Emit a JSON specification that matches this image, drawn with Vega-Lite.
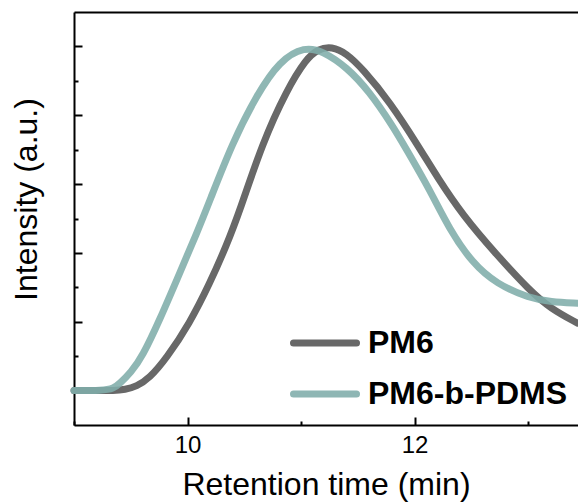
{
  "$schema": "https://vega.github.io/schema/vega-lite/v6.json",
  "width": 504,
  "height": 413,
  "autosize": {"type": "none"},
  "padding": {"left": 74, "top": 12, "right": 0, "bottom": 79},
  "background": "white",
  "config": {
    "view": {"stroke": null},
    "font": "Liberation Sans",
    "axis": {"grid": false, "domainColor": "black", "domainWidth": 2, "tickColor": "black", "tickWidth": 2, "labelColor": "black", "titleColor": "black", "labelFont": "Liberation Sans", "titleFont": "Liberation Sans", "titleFontWeight": "normal"}
  },
  "data": {
    "values": [
      {"x": 9.0, "y": 0, "s": "PM6"},
      {"x": 9.2, "y": 0, "s": "PM6"},
      {"x": 9.35, "y": 0.0, "s": "PM6"},
      {"x": 9.45, "y": 0.003, "s": "PM6"},
      {"x": 9.55, "y": 0.012, "s": "PM6"},
      {"x": 9.665, "y": 0.036, "s": "PM6"},
      {"x": 9.815, "y": 0.094, "s": "PM6"},
      {"x": 10.018, "y": 0.195, "s": "PM6"},
      {"x": 10.194, "y": 0.31, "s": "PM6"},
      {"x": 10.344, "y": 0.422, "s": "PM6"},
      {"x": 10.458, "y": 0.52, "s": "PM6"},
      {"x": 10.661, "y": 0.72, "s": "PM6"},
      {"x": 10.872, "y": 0.872, "s": "PM6"},
      {"x": 11.048, "y": 0.965, "s": "PM6"},
      {"x": 11.15, "y": 0.992, "s": "PM6"},
      {"x": 11.27, "y": 1.0, "s": "PM6"},
      {"x": 11.4, "y": 0.98, "s": "PM6"},
      {"x": 11.542, "y": 0.935, "s": "PM6"},
      {"x": 11.78, "y": 0.84, "s": "PM6"},
      {"x": 12.044, "y": 0.705, "s": "PM6"},
      {"x": 12.2, "y": 0.62, "s": "PM6"},
      {"x": 12.423, "y": 0.51, "s": "PM6"},
      {"x": 12.722, "y": 0.395, "s": "PM6"},
      {"x": 13.013, "y": 0.291, "s": "PM6"},
      {"x": 13.2, "y": 0.238, "s": "PM6"},
      {"x": 13.436, "y": 0.196, "s": "PM6"},
      {"x": 9.0, "y": 0, "s": "PM6-b-PDMS"},
      {"x": 9.25, "y": 0, "s": "PM6-b-PDMS"},
      {"x": 9.35, "y": 0.006, "s": "PM6-b-PDMS"},
      {"x": 9.401, "y": 0.02, "s": "PM6-b-PDMS"},
      {"x": 9.5, "y": 0.052, "s": "PM6-b-PDMS"},
      {"x": 9.604, "y": 0.1, "s": "PM6-b-PDMS"},
      {"x": 9.753, "y": 0.204, "s": "PM6-b-PDMS"},
      {"x": 9.93, "y": 0.341, "s": "PM6-b-PDMS"},
      {"x": 10.079, "y": 0.455, "s": "PM6-b-PDMS"},
      {"x": 10.194, "y": 0.55, "s": "PM6-b-PDMS"},
      {"x": 10.396, "y": 0.72, "s": "PM6-b-PDMS"},
      {"x": 10.608, "y": 0.858, "s": "PM6-b-PDMS"},
      {"x": 10.81, "y": 0.958, "s": "PM6-b-PDMS"},
      {"x": 11.031, "y": 1.0, "s": "PM6-b-PDMS"},
      {"x": 11.2, "y": 0.985, "s": "PM6-b-PDMS"},
      {"x": 11.401, "y": 0.94, "s": "PM6-b-PDMS"},
      {"x": 11.6, "y": 0.87, "s": "PM6-b-PDMS"},
      {"x": 11.806, "y": 0.77, "s": "PM6-b-PDMS"},
      {"x": 11.93, "y": 0.7, "s": "PM6-b-PDMS"},
      {"x": 12.132, "y": 0.585, "s": "PM6-b-PDMS"},
      {"x": 12.308, "y": 0.468, "s": "PM6-b-PDMS"},
      {"x": 12.511, "y": 0.37, "s": "PM6-b-PDMS"},
      {"x": 12.722, "y": 0.31, "s": "PM6-b-PDMS"},
      {"x": 13.013, "y": 0.268, "s": "PM6-b-PDMS"},
      {"x": 13.2, "y": 0.258, "s": "PM6-b-PDMS"},
      {"x": 13.436, "y": 0.254, "s": "PM6-b-PDMS"}
    ]
  },
  "layer": [
    {
      "mark": {"type": "line", "strokeWidth": 7, "interpolate": "basis", "strokeCap": "round"},
      "encoding": {
        "x": {"field": "x", "type": "quantitative", "scale": {"domain": [9, 13.44], "nice": false, "zero": false},
          "axis": {"orient": "bottom", "title": "Retention time (min)", "values": [9, 10, 11, 12, 13],
            "labelExpr": "datum.value % 2 == 0 ? datum.label : ''",
            "tickSize": {"condition": {"test": "datum.value % 2 == 0", "value": -8}, "value": -4},
            "labelFontSize": 24, "titleFontSize": 32, "labelPadding": 16, "titlePadding": 12}},
        "y": {"field": "y", "type": "quantitative", "scale": {"domain": [-0.1, 1.1], "nice": false, "zero": false},
          "axis": {"title": "Intensity (a.u.)", "values": [0, 0.1, 0.2, 0.3, 0.4, 0.5, 0.6, 0.7, 0.8, 0.9, 1.0],
            "labels": false,
            "tickSize": {"condition": {"test": "round(datum.value * 10) % 2 == 0", "value": -8}, "value": -4},
            "titleFontSize": 32, "titlePadding": 30, "titleY": 187}},
        "color": {"field": "s", "type": "nominal", "title": null,
          "scale": {"domain": ["PM6", "PM6-b-PDMS"], "range": ["#686868", "#7fadaa"]},
          "legend": {"orient": "none", "legendX": 216, "legendY": 296, "symbolType": "stroke", "symbolSize": 3969, "symbolStrokeWidth": 7,
            "labelFontSize": 32, "labelFontWeight": "bold", "labelColor": "black", "labelFont": "Liberation Sans", "labelLimit": 400, "labelOffset": 8, "rowPadding": -23,
            "symbolOpacity": 1,
            "encode": {"symbols": {"update": {"strokeCap": {"value": "round"}}}}}},
        "opacity": {"field": "s", "type": "nominal", "scale": {"domain": ["PM6", "PM6-b-PDMS"], "range": [1, 0.88]}, "legend": null}
      }
    },
    {
      "mark": {"type": "point", "opacity": 0},
      "encoding": {
        "x": {"field": "x", "type": "quantitative", "scale": {"domain": [9, 13.44], "nice": false, "zero": false},
          "axis": {"orient": "top", "title": null, "labels": false, "ticks": false, "domain": true}}
      }
    }
  ],
  "resolve": {"axis": {"x": "independent"}}
}
